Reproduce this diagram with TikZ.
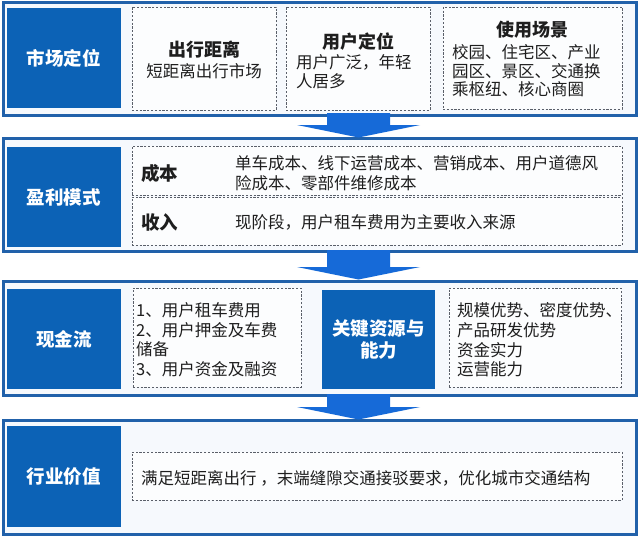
\documentclass[tikz,border=0pt]{standalone}
\usepackage{fontspec}
\setmainfont{Noto Sans CJK SC}
\definecolor{frameblue}{RGB}{33,97,170}
\definecolor{boxblue}{RGB}{12,98,182}
\definecolor{arrowblue}{RGB}{22,106,216}
\definecolor{framefill}{RGB}{246,249,253}
\definecolor{dashfill}{RGB}{252,253,254}
\definecolor{dashgray}{RGB}{90,95,105}
\definecolor{txt}{RGB}{30,30,30}
\begin{document}
\begin{tikzpicture}[x=1pt,y=-1pt,
  frame/.style={draw=frameblue,line width=3pt,fill=framefill,inner sep=0pt,minimum width=633pt},
  bluebox/.style={fill=boxblue,text=white,inner sep=0pt,align=center,
    font=\bfseries\fontsize{18.5}{21.5}\selectfont},
  dbox/.style={draw=dashgray,line width=0.8pt,dash pattern=on 2.2pt off 1.6pt,fill=dashfill,inner sep=0pt},
  head/.style={text=txt,inner sep=0pt,font=\bfseries\fontsize{18}{20}\selectfont},
  body/.style={text=txt,inner sep=0pt,align=left,font=\fontsize{16.5}{18.5}\selectfont},
  bodyb/.style={text=txt,inner sep=0pt,align=left,font=\fontsize{16.5}{20}\selectfont},
  blockarrow/.style={fill=arrowblue}
]
\useasboundingbox[fill=white] (0,0) rectangle (640,536);
% frames
\node[frame,minimum height=112.5pt] (f1) at (320,58.75) {};
\node[frame,minimum height=113.5pt] (f2) at (320,194.75) {};
\node[frame,minimum height=114pt] (f3) at (320,338.5) {};
\node[frame,minimum height=114pt] (f4) at (320,477) {};
% arrows
\fill[blockarrow] (327,113) -- (390,113) -- (390,125) -- (420,125) -- (358.5,137.5) -- (297,125) -- (327,125) -- cycle;
\fill[blockarrow] (327,250) -- (390,250) -- (390,267) -- (420,267) -- (358.5,279.5) -- (297,267) -- (327,267) -- cycle;
\fill[blockarrow] (327,394) -- (390,394) -- (390,407) -- (420,407) -- (358.5,419.5) -- (297,407) -- (327,407) -- cycle;
% row 1
\node[bluebox,minimum width=114pt,minimum height=100pt] (b1) at (64,58) {市场定位};
\node[dbox,minimum width=144pt,minimum height=103pt] (d11) at (204,58.5) {};
\node[dbox,minimum width=144pt,minimum height=103pt] (d12) at (358,58.5) {};
\node[dbox,minimum width=179pt,minimum height=102pt] (d13) at (532.5,58) {};
\node[head] (h11) at (204,50) {出行距离};
\node[body] (t11) at (204,71) {短距离出行市场};
\node[head] (h12) at (358,42) {用户定位};
\node[body,anchor=north west] (t12) at (296,54.6) {用户广泛，年轻\\人居多};
\node[head] (h13) at (532,30) {使用场景};
\node[body,anchor=north west] (t13) at (452,44.6) {校园、住宅区、产业\\园区、景区、交通换\\乘枢纽、核心商圈};
% row 2
\node[bluebox,minimum width=114pt,minimum height=100pt] (b2) at (64,197) {盈利模式};
\node[dbox,minimum width=490pt,minimum height=49pt] (d21) at (377,170.5) {};
\node[dbox,minimum width=490pt,minimum height=48pt] (d22) at (377,221) {};
\node[head,anchor=west,font=\bfseries\fontsize{18.5}{20}\selectfont] (h21) at (141,173) {成本};
\node[bodyb,anchor=north west] (t21) at (235,155.6) {单车成本、线下运营成本、营销成本、用户道德风\\险成本、零部件维修成本};
\node[head,anchor=west,font=\bfseries\fontsize{18.5}{20}\selectfont] (h22) at (141,222) {收入};
\node[body,anchor=west] (t22) at (235,222) {现阶段，用户租车费用为主要收入来源};
% row 3
\node[bluebox,minimum width=114pt,minimum height=100pt] (b3) at (64,339) {现金流};
\node[dbox,minimum width=168pt,minimum height=99pt] (d31) at (217,337.5) {};
\node[bluebox,minimum width=113pt,minimum height=99pt] (b32) at (378.5,339.5) {关键资源与\\能力};
\node[dbox,minimum width=172pt,minimum height=99pt] (d32) at (535,337.5) {};
\node[body,anchor=north west,font=\fontsize{16.5}{19.6}\selectfont] (t31) at (136,302.6) {1、用户租车费用\\2、用户押金及车费\\储备\\3、用户资金及融资};
\node[body,anchor=north west,font=\fontsize{16.5}{19.6}\selectfont] (t32) at (457,302.6) {规模优势、密度优势、\\产品研发优势\\资金实力\\运营能力};
% row 4
\node[bluebox,minimum width=114pt,minimum height=101pt] (b4) at (64,476.5) {行业价值};
\node[dbox,minimum width=490pt,minimum height=48pt] (d4) at (377,476) {};
\node[body,anchor=west] (t4) at (141,478) {满足短距离出行 ，末端缝隙交通接驳要求，优化城市交通结构};
\end{tikzpicture}
\end{document}
